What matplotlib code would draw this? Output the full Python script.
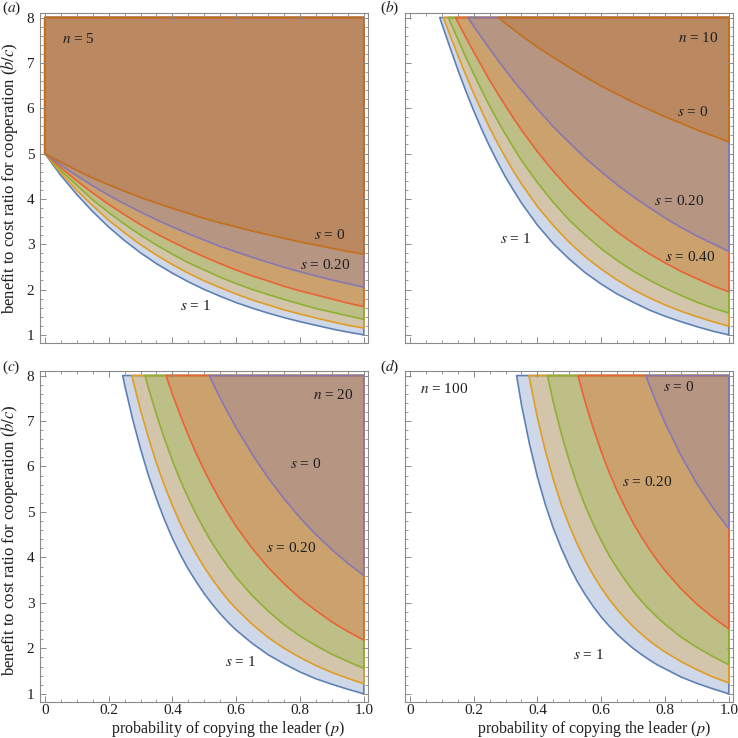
import matplotlib
matplotlib.use("Agg")
import matplotlib.pyplot as plt
from matplotlib.path import Path
from matplotlib.patches import PathPatch
from matplotlib.transforms import Bbox
from matplotlib.colors import to_rgba
from matplotlib.ticker import FixedLocator, MultipleLocator

plt.rcParams['font.family'] = ['Liberation Serif', 'DejaVu Serif']
plt.rcParams['mathtext.fontset'] = 'stix'

# threshold b/c, one list per s value (s = 1, 0.8, 0.6, 0.4, 0.2, 0)

# (a) n = 5
p_a = [0.0, 0.05, 0.1, 0.15, 0.2, 0.25, 0.3, 0.35, 0.4, 0.45, 0.5,
       0.55, 0.6, 0.65, 0.7, 0.75, 0.8, 0.85, 0.9, 0.95, 1.0]
n5_s1 = [5.0, 4.52, 4.10, 3.72, 3.38, 3.08, 2.81, 2.57, 2.36, 2.17, 2.00, 1.85, 1.71, 1.59, 1.48, 1.38, 1.29, 1.21, 1.13, 1.06, 1.00]
n5_s08 = [5.0, 4.58, 4.19, 3.85, 3.53, 3.25, 2.99, 2.76, 2.55, 2.36, 2.19, 2.04, 1.90, 1.77, 1.66, 1.55, 1.46, 1.37, 1.29, 1.21, 1.15]
n5_s06 = [5.0, 4.63, 4.30, 3.98, 3.70, 3.44, 3.20, 2.98, 2.78, 2.59, 2.43, 2.27, 2.13, 2.00, 1.89, 1.78, 1.68, 1.58, 1.50, 1.42, 1.34]
n5_s04 = [5.0, 4.69, 4.40, 4.13, 3.88, 3.65, 3.43, 3.23, 3.05, 2.88, 2.72, 2.57, 2.43, 2.30, 2.19, 2.07, 1.97, 1.88, 1.79, 1.70, 1.62]
n5_s02 = [5.0, 4.75, 4.51, 4.29, 4.08, 3.89, 3.71, 3.54, 3.38, 3.23, 3.09, 2.95, 2.83, 2.71, 2.60, 2.49, 2.39, 2.30, 2.21, 2.13, 2.05]
n5_s0 = [5.0, 4.81, 4.63, 4.46, 4.31, 4.17, 4.03, 3.91, 3.79, 3.68, 3.57, 3.47, 3.38, 3.29, 3.21, 3.13, 3.05, 2.98, 2.91, 2.84, 2.78]

# (b) n = 10
p_b = [0.0, 0.05, 0.075, 0.1, 0.125, 0.15, 0.175, 0.2, 0.225, 0.25, 0.275, 0.3, 0.325,
       0.35, 0.4, 0.45, 0.5, 0.55, 0.6, 0.65, 0.7, 0.75, 0.8, 0.85, 0.9, 0.95, 1.0]
n10_s1 = [10.0, 8.95, 8.41, 7.87, 7.36, 6.86, 6.39, 5.95, 5.54, 5.16, 4.81, 4.48, 4.19,
          3.91, 3.42, 3.01, 2.67, 2.37, 2.12, 1.90, 1.72, 1.55, 1.41, 1.29, 1.18, 1.08, 1.00]
n10_s08 = [10.0, 9.06, 8.58, 8.10, 7.63, 7.18, 6.74, 6.33, 5.94, 5.57, 5.23, 4.91, 4.61,
           4.33, 3.83, 3.41, 3.04, 2.72, 2.45, 2.21, 2.00, 1.82, 1.66, 1.52, 1.40, 1.29, 1.19]
n10_s06 = [10.0, 9.19, 8.77, 8.35, 7.93, 7.53, 7.13, 6.76, 6.40, 6.05, 5.73, 5.42, 5.13,
           4.85, 4.36, 3.92, 3.53, 3.20, 2.90, 2.64, 2.41, 2.21, 2.03, 1.87, 1.72, 1.59, 1.48]
n10_s04 = [10.0, 9.31, 8.96, 8.61, 8.26, 7.91, 7.57, 7.25, 6.93, 6.62, 6.33, 6.05, 5.78,
           5.52, 5.04, 4.61, 4.22, 3.87, 3.56, 3.27, 3.02, 2.79, 2.59, 2.40, 2.24, 2.08, 1.95]
n10_s02 = [10.0, 9.44, 9.16, 8.88, 8.61, 8.34, 8.07, 7.81, 7.56, 7.31, 7.07, 6.84, 6.61,
           6.40, 5.98, 5.59, 5.24, 4.90, 4.60, 4.31, 4.05, 3.81, 3.58, 3.37, 3.18, 3.01, 2.84]
n10_s0 = [10.0, 9.57, 9.37, 9.17, 8.99, 8.81, 8.64, 8.47, 8.32, 8.16, 8.02, 7.87, 7.74,
          7.60, 7.35, 7.12, 6.90, 6.69, 6.49, 6.31, 6.13, 5.97, 5.81, 5.67, 5.52, 5.39, 5.26]

# (c) n = 20
p_c = [0.0, 0.05, 0.1, 0.15, 0.2, 0.225, 0.25, 0.275, 0.3, 0.325, 0.35, 0.375, 0.4, 0.425,
       0.45, 0.475, 0.5, 0.525, 0.55, 0.575, 0.6, 0.65, 0.7, 0.75, 0.8, 0.85, 0.9, 0.95, 1.0]
n20_s1 = [20.0, 17.51, 14.60, 11.89, 9.62, 8.66, 7.80, 7.05, 6.39, 5.80, 5.29, 4.83, 4.42, 4.06,
          3.74, 3.46, 3.20, 2.97, 2.76, 2.57, 2.40, 2.11, 1.86, 1.66, 1.48, 1.33, 1.21, 1.10, 1.00]
n20_s08 = [20.0, 17.80, 15.21, 12.70, 10.52, 9.56, 8.71, 7.93, 7.24, 6.63, 6.07, 5.58, 5.14, 4.74,
           4.39, 4.07, 3.78, 3.52, 3.28, 3.06, 2.87, 2.53, 2.24, 2.00, 1.80, 1.62, 1.47, 1.34, 1.22]
n20_s06 = [20.0, 18.11, 15.87, 13.64, 11.60, 10.68, 9.84, 9.07, 8.36, 7.72, 7.14, 6.61, 6.13, 5.69,
           5.30, 4.94, 4.61, 4.31, 4.04, 3.79, 3.56, 3.16, 2.82, 2.52, 2.27, 2.06, 1.87, 1.71, 1.56]
n20_s04 = [20.0, 18.42, 16.60, 14.72, 12.94, 12.10, 11.32, 10.58, 9.89, 9.24, 8.65, 8.10, 7.59, 7.12,
           6.68, 6.28, 5.91, 5.57, 5.25, 4.96, 4.68, 4.20, 3.78, 3.42, 3.10, 2.83, 2.58, 2.37, 2.18]
n20_s02 = [20.0, 18.75, 17.39, 15.99, 14.62, 13.96, 13.31, 12.69, 12.09, 11.52, 10.97, 10.45, 9.96, 9.49,
           9.05, 8.63, 8.23, 7.86, 7.50, 7.17, 6.85, 6.27, 5.75, 5.29, 4.87, 4.50, 4.17, 3.87, 3.60]

# (d) n = 100
p_d = [0.0, 0.05, 0.1, 0.15, 0.2, 0.25, 0.3, 0.325, 0.35, 0.375, 0.4, 0.425, 0.45, 0.475, 0.5,
       0.525, 0.55, 0.575, 0.6, 0.625, 0.65, 0.675, 0.7, 0.725, 0.75, 0.775, 0.8, 0.85, 0.9, 0.95, 1.0]
n100_s1 = [100.0, 74.49, 46.08, 28.72, 18.94, 13.22, 9.68, 8.41, 7.36, 6.50, 5.77, 5.16, 4.64, 4.20, 3.81,
           3.47, 3.18, 2.92, 2.69, 2.49, 2.31, 2.15, 2.00, 1.87, 1.75, 1.64, 1.55, 1.37, 1.23, 1.11, 1.00]
n100_s08 = [100.0, 77.89, 51.13, 33.16, 22.40, 15.87, 11.73, 10.22, 8.98, 7.94, 7.07, 6.34, 5.71, 5.16, 4.70,
            4.29, 3.93, 3.61, 3.33, 3.08, 2.86, 2.66, 2.48, 2.32, 2.17, 2.04, 1.92, 1.71, 1.53, 1.37, 1.24]
n100_s06 = [100.0, 81.61, 57.42, 39.23, 27.42, 19.86, 14.89, 13.04, 11.51, 10.22, 9.13, 8.20, 7.41, 6.72, 6.12,
            5.59, 5.13, 4.73, 4.37, 4.04, 3.76, 3.50, 3.26, 3.05, 2.86, 2.69, 2.53, 2.25, 2.02, 1.82, 1.64]
n100_s04 = [100.0, 85.71, 65.47, 48.03, 35.33, 26.50, 20.37, 18.01, 16.02, 14.33, 12.88, 11.63, 10.54, 9.60, 8.77,
            8.05, 7.41, 6.84, 6.33, 5.87, 5.46, 5.10, 4.76, 4.46, 4.19, 3.94, 3.71, 3.31, 2.97, 2.68, 2.43]
n100_s02 = [100.0, 90.24, 76.15, 61.91, 49.64, 39.83, 32.22, 29.10, 26.36, 23.95, 21.83, 19.96, 18.30, 16.83, 15.51,
            14.34, 13.29, 12.35, 11.50, 10.73, 10.03, 9.40, 8.82, 8.29, 7.81, 7.37, 6.96, 6.24, 5.62, 5.09, 4.63]

# s = 1, 0.8, 0.6, 0.4, 0.2, 0 (Mathematica default palette)
s_colors = ['#5E81B5', '#E19C24', '#8FB032', '#EB6235', '#8778B3', '#C56E1A']

x_ticks = [0, 0.2, 0.4, 0.6, 0.8, 1.0]
x_ticklabels = ['0', '0.2', '0.4', '0.6', '0.8', '1.0']
y_ticks = [1, 2, 3, 4, 5, 6, 7, 8]
y_ticklabels = ['1', '2', '3', '4', '5', '6', '7', '8']

# in-panel annotations: text, p, b/c, alignment
labels_a = [('$n$ = 5', 0.053, 7.52, 'left'), ('$s$ = 0', 0.893, 3.20, 'center'),
            ('$s$ = 0.20', 0.88, 2.55, 'center'), ('$s$ = 1', 0.472, 1.63, 'center')]
labels_b = [('$n$ = 10', 0.904, 7.54, 'center'), ('$s$ = 0', 0.8875, 5.92, 'center'),
            ('$s$ = 0.20', 0.844, 3.95, 'center'), ('$s$ = 0.40', 0.878, 2.72, 'center'),
            ('$s$ = 1', 0.332, 3.12, 'center')]
labels_c = [('$n$ = 20', 0.905, 7.57, 'center'), ('$s$ = 0', 0.818, 6.05, 'center'),
            ('$s$ = 0.20', 0.771, 4.20, 'center'), ('$s$ = 1', 0.613, 1.71, 'center')]
labels_d = [('$n$ = 100', 0.031, 7.70, 'left'), ('$s$ = 0', 0.843, 7.75, 'center'),
            ('$s$ = 0.20', 0.743, 5.66, 'center'), ('$s$ = 1', 0.56, 1.86, 'center')]

W = 738.0
TOP = 8.0
frame_col = '#8a8a8a'
text_col = '#1e1e1e'

fig = plt.figure(figsize=(7.38, 7.38), dpi=100)


def add_panel(box, p_vals, curves, labels, show_x, show_y):
    x0, y0, x1, y1 = box
    ax = fig.add_axes([x0 / W, 1 - y1 / W, (x1 - x0) / W, (y1 - y0) / W])
    clip_box = Bbox([[0.0, 0.0], [1.0, TOP]])
    # each region is b/c above its threshold curve, cut at the plot range
    for vals, col in zip(curves, s_colors):
        verts = list(zip(p_vals, vals)) + [(1.0, 500.0), (0.0, 500.0), (p_vals[0], vals[0])]
        region = Path(verts, closed=True).clip_to_bbox(clip_box)
        for poly in region.to_polygons(closed_only=True):
            ax.add_patch(PathPatch(Path(poly, closed=True), facecolor=to_rgba(col, 0.3),
                                   edgecolor=col, lw=1.2, joinstyle='round'))
    for txt, px, py, ha in labels:
        ax.text(px, py, txt, ha=ha, va='center', fontsize=11, color=text_col)

    ax.set_xlim(-0.015, 1.013)
    ax.set_ylim(0.82, 8.1)
    ax.xaxis.set_major_locator(FixedLocator(x_ticks))
    ax.xaxis.set_minor_locator(MultipleLocator(0.05))
    ax.yaxis.set_major_locator(FixedLocator(y_ticks))
    ax.yaxis.set_minor_locator(MultipleLocator(0.2))
    ax.set_xticklabels(x_ticklabels if show_x else [])
    ax.set_yticklabels(y_ticklabels if show_y else [])
    ax.tick_params(which='both', direction='in', top=True, right=True,
                   color=frame_col, labelsize=11, labelcolor=text_col)
    ax.tick_params(axis='x', pad=1.5)
    ax.tick_params(axis='y', pad=4)
    ax.tick_params(which='major', length=4.5, width=0.7)
    ax.tick_params(which='minor', length=2.3, width=0.6)
    for sp in ax.spines.values():
        sp.set_color(frame_col)
        sp.set_linewidth(0.8)
    return ax


add_panel((40, 13, 368, 343), p_a, [n5_s1, n5_s08, n5_s06, n5_s04, n5_s02, n5_s0], labels_a, False, True)
add_panel((405, 13, 733, 343), p_b, [n10_s1, n10_s08, n10_s06, n10_s04, n10_s02, n10_s0], labels_b, False, False)
add_panel((40, 371, 368, 702), p_c, [n20_s1, n20_s08, n20_s06, n20_s04, n20_s02], labels_c, True, True)
add_panel((405, 371, 733, 702), p_d, [n100_s1, n100_s08, n100_s06, n100_s04, n100_s02], labels_d, True, False)

# panel letters
for letter, px, py in [('a', 2, 8), ('b', 380, 8), ('c', 2, 367), ('d', 380, 367)]:
    fig.text(px / W, 1 - py / W, '($%s$)' % letter, ha='left', va='center', fontsize=11, color=text_col)

# axis titles
ylab = 'benefit to cost ratio for cooperation ($b/c$)'
xlab = 'probability of copying the leader ($p$)'
fig.text(10 / W, 1 - 178 / W, ylab, rotation=90, ha='center', va='center', fontsize=12, color=text_col)
fig.text(10 / W, 1 - 540 / W, ylab, rotation=90, ha='center', va='center', fontsize=12, color=text_col)
fig.text(228 / W, 1 - 729 / W, xlab, ha='center', va='center', fontsize=11.5, color=text_col)
fig.text(594 / W, 1 - 729 / W, xlab, ha='center', va='center', fontsize=11.5, color=text_col)

fig.savefig('out.png', dpi=100)
plt.close(fig)
print("Saved plot to out.png")
